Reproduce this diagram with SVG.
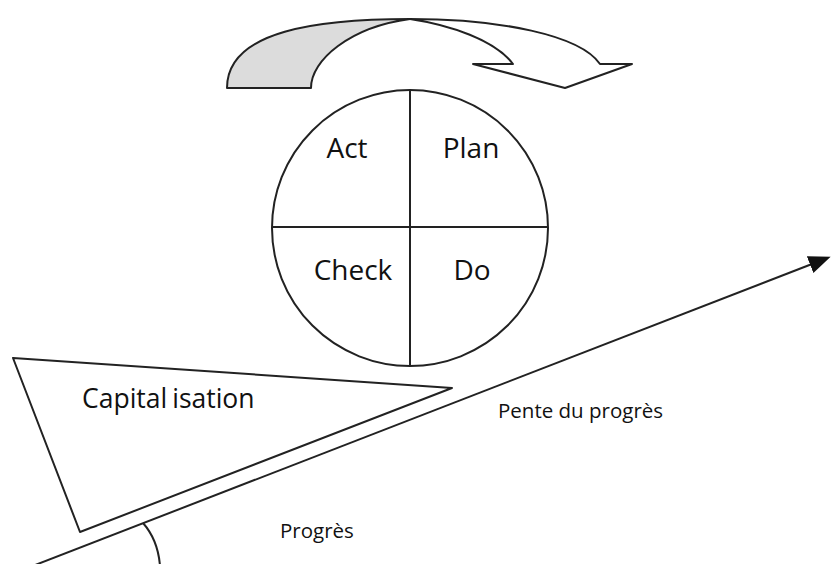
<svg xmlns="http://www.w3.org/2000/svg" width="838" height="564" viewBox="0 0 838 564">
  <style>
    .ln { fill: none; stroke: #222; stroke-width: 2; stroke-linejoin: round; }
    .sh { stroke: #222; stroke-width: 2; stroke-linejoin: round; }
    .lbl { font-family: "Open Sans", "Liberation Sans", sans-serif; fill: #111; }
    .big { font-size: 28px; text-anchor: middle; }
    .mid { font-size: 26.5px; }
    .sm { font-size: 20.5px; }
  </style>
  <defs>
    <marker id="tip" markerWidth="22" markerHeight="20" refX="2" refY="9" orient="auto" markerUnits="userSpaceOnUse" viewBox="0 0 22 18">
      <path d="M0,0 L22,9 L0,18 Z" fill="#111"/>
    </marker>
  </defs>
  <rect width="838" height="564" fill="#fff"/>

  <!-- rotating cycle arrow above the wheel -->
  <g id="cycle-arrow">
    <path class="sh" fill="#dcdcdc" d="M227,88 C227,30 320,19 410,19 C350,27 311,60 311,88 Z"/>
    <path class="sh" fill="#fff" d="M410,19 C500,19 580,35 600,64 L632,64 L565,88 L473,64 L513,64 C495,40 450,25 410,19 Z"/>
  </g>

  <!-- PDCA wheel -->
  <g id="pdca-wheel">
    <circle class="ln" cx="410" cy="228" r="138"/>
    <line class="ln" x1="410" y1="90" x2="410" y2="366"/>
    <line class="ln" x1="272" y1="227" x2="548" y2="227"/>
    <text class="lbl big" x="347" y="158">Act</text>
    <text class="lbl big" x="471" y="158">Plan</text>
    <text class="lbl big" x="353" y="280">Check</text>
    <text class="lbl big" x="472" y="280">Do</text>
  </g>

  <!-- wedge holding the wheel on the slope -->
  <g id="capitalisation">
    <polygon class="sh" fill="#fff" points="13,358 452,388 80,532"/>
    <text class="lbl mid" x="82" y="408">Capital<tspan dx="5">isation</tspan></text>
  </g>

  <!-- slope of progress -->
  <g id="connectors">
    <line class="ln" x1="30" y1="567" x2="812" y2="264" marker-end="url(#tip)"/>
    <path class="ln" d="M143,523 Q158,540 160,566"/>
  </g>

  <g id="slope-labels">
    <text class="lbl sm" x="498" y="418">Pente du progrès</text>
    <text class="lbl sm" x="280" y="538">Progrès</text>
  </g>
</svg>
